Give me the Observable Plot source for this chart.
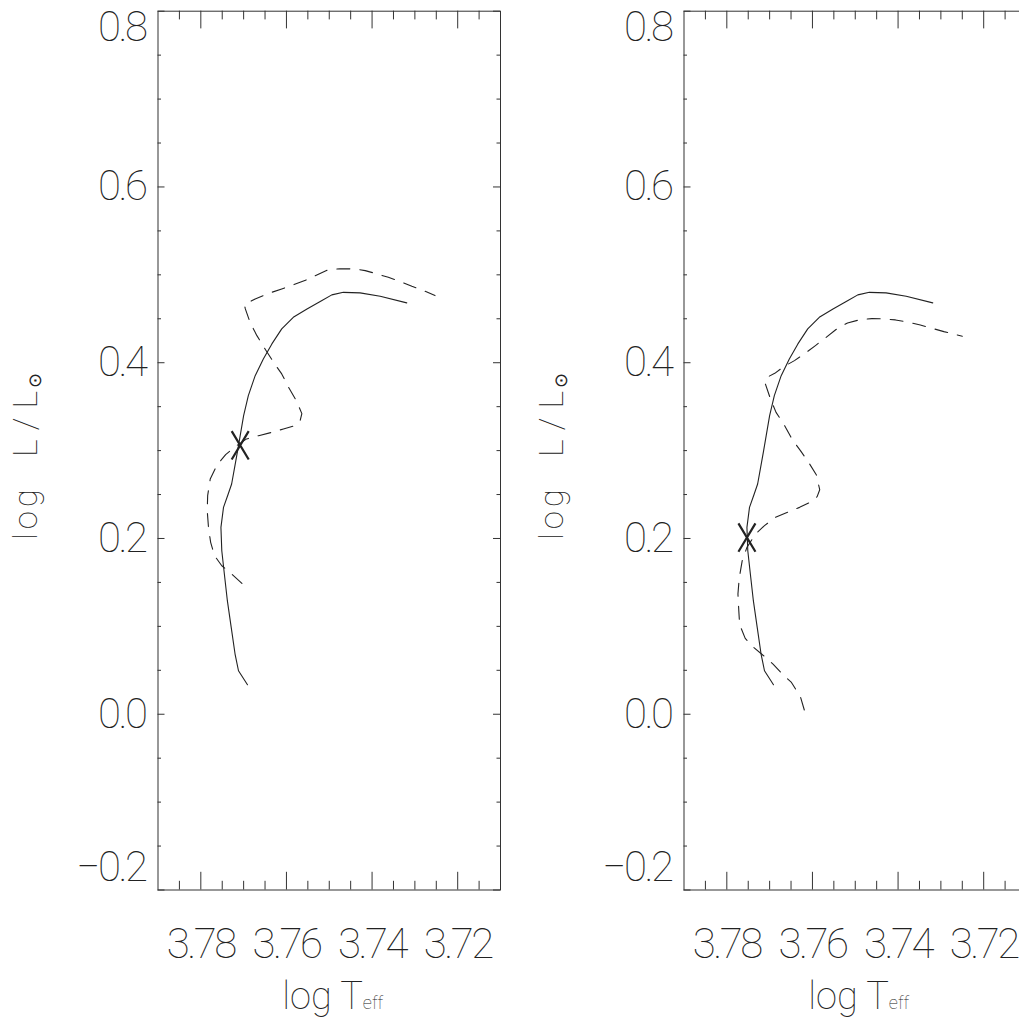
<!DOCTYPE html>
<html><head><meta charset="utf-8">
<script src="https://cdn.jsdelivr.net/npm/d3@7"></script>
<script src="https://cdn.jsdelivr.net/npm/@observablehq/plot@0.6"></script>
<style>
html,body{margin:0;padding:0;background:#fff;overflow:hidden}
#wrap{position:relative;width:1019px;height:1028px;overflow:hidden}
.panel{position:absolute;top:0}
</style>
</head><body><div id="wrap"></div>
<script>
// ---- data ----
const xMajorTicks = [3.78, 3.76, 3.74, 3.72];
const xMinorTicks = [3.785, 3.775, 3.77, 3.765, 3.755, 3.75, 3.745, 3.735, 3.73, 3.725, 3.715];
const yMajorTicks = [-0.2, 0.0, 0.2, 0.4, 0.6, 0.8];
const yMinorTicks = [-0.15, -0.1, -0.05, 0.05, 0.1, 0.15, 0.25, 0.3, 0.35, 0.45, 0.5, 0.55, 0.65, 0.7, 0.75];

// solid track (same in both panels)
const solidLogT = [3.7691, 3.7712, 3.7720, 3.7729, 3.7738, 3.7745, 3.7751, 3.7753, 3.7747, 3.7736, 3.7728, 3.7721, 3.7714, 3.7708, 3.7700, 3.7689, 3.7673, 3.7654, 3.7634, 3.7611, 3.7584, 3.7552, 3.7517, 3.7494, 3.7467, 3.7428, 3.7381, 3.7319];
const solidLogL = [0.0336, 0.0495, 0.0685, 0.0988, 0.1292, 0.1596, 0.1861, 0.2126, 0.2354, 0.2506, 0.2620, 0.2809, 0.2999, 0.3170, 0.3398, 0.3625, 0.3853, 0.4043, 0.4214, 0.4385, 0.4517, 0.4612, 0.4707, 0.4772, 0.4801, 0.4795, 0.4756, 0.4681];

// dashed track, left panel
const dashedLeftLogT = [3.7704, 3.7728, 3.7751, 3.7768, 3.7777, 3.7782, 3.7785, 3.7784, 3.7778, 3.7763, 3.7742, 3.7720, 3.7693, 3.7665, 3.7634, 3.7607, 3.7580, 3.7568, 3.7564, 3.7577, 3.7595, 3.7611, 3.7630, 3.7650, 3.7669, 3.7685, 3.7696, 3.7698, 3.7673, 3.7638, 3.7611, 3.7584, 3.7552, 3.7529, 3.7502, 3.7475, 3.7443, 3.7416, 3.7389, 3.7362, 3.7334, 3.7307, 3.7280, 3.7253];
const dashedLeftLogL = [0.1489, 0.1596, 0.1690, 0.1804, 0.1956, 0.2120, 0.2316, 0.2487, 0.2677, 0.2829, 0.2954, 0.3045, 0.3133, 0.3170, 0.3208, 0.3246, 0.3284, 0.3341, 0.3421, 0.3569, 0.3720, 0.3873, 0.4005, 0.4157, 0.4308, 0.4460, 0.4612, 0.4661, 0.4726, 0.4795, 0.4840, 0.4886, 0.4946, 0.4999, 0.5060, 0.5068, 0.5068, 0.5048, 0.5011, 0.4972, 0.4923, 0.4870, 0.4821, 0.4764];

// dashed track, right panel
const dashedRightLogT = [3.7619, 3.7628, 3.7649, 3.7669, 3.7692, 3.7714, 3.7739, 3.7757, 3.7770, 3.7772, 3.7774, 3.7771, 3.7764, 3.7753, 3.7733, 3.7712, 3.7687, 3.7630, 3.7601, 3.7589, 3.7583, 3.7591, 3.7609, 3.7628, 3.7648, 3.7667, 3.7685, 3.7698, 3.7710, 3.7708, 3.7688, 3.7667, 3.7642, 3.7617, 3.7593, 3.7568, 3.7543, 3.7518, 3.7488, 3.7461, 3.7434, 3.7406, 3.7375, 3.7348, 3.7321, 3.7293, 3.7250];
const dashedRightLogL = [0.0048, 0.0199, 0.0362, 0.0450, 0.0571, 0.0666, 0.0768, 0.0863, 0.1019, 0.1178, 0.1368, 0.1550, 0.1747, 0.1899, 0.2051, 0.2146, 0.2240, 0.2354, 0.2422, 0.2476, 0.2555, 0.2726, 0.2866, 0.2999, 0.3133, 0.3303, 0.3435, 0.3588, 0.3759, 0.3830, 0.3879, 0.3956, 0.4024, 0.4107, 0.4195, 0.4289, 0.4385, 0.4453, 0.4491, 0.4502, 0.4499, 0.4487, 0.4460, 0.4430, 0.4392, 0.4354, 0.4301];

// X markers
const markerLogT = [3.7708, 3.7753];
const markerLogL = [0.306, 0.201];

const xDomain = [3.79, 3.71];
const yDomain = [-0.2, 0.8];

// ---- layout ----
const PW = 526, PH = 1028;
const ML = 157.5, MR = 26, MT = 10.7, MB = 138.5;
const IW = PW - ML - MR, IH = PH - MT - MB;
const INK = "#222", AX = "#333";
const FONT = "Roboto, 'Open Sans', 'DejaVu Sans', sans-serif";

const xSymbol = {
  draw(ctx, size) {
    const h = Math.sqrt(size), w = h * 0.6;
    ctx.moveTo(-w/2, -h/2); ctx.lineTo(w/2, h/2);
    ctx.moveTo(w/2, -h/2); ctx.lineTo(-w/2, h/2);
  }
};

const fmtY = d => d.toFixed(1).replace("-", "\u2212");
const labelStyle = {textAnchor: "end", lineAnchor: "middle", fontSize: 42, fontWeight: 100, fill: INK, dx: -12.5};

function panel(dashT, dashL, idx) {
  const solid = solidLogT.map((t, i) => ({t, l: solidLogL[i]}));
  const dashed = dashT.map((t, i) => ({t, l: dashL[i]}));
  const marker = [{t: markerLogT[idx], l: markerLogL[idx]}];
  const yTop = yDomain[1], yBot = yDomain[0];
  const svg = Plot.plot({
    width: PW, height: PH,
    marginLeft: ML, marginRight: MR, marginTop: MT, marginBottom: MB,
    x: {domain: xDomain, axis: null},
    y: {domain: yDomain, axis: null},
    style: {fontFamily: FONT, background: "transparent", overflow: "visible", color: INK},
    marks: [
      // ticks (inside, all four sides)
      Plot.ruleX(xMajorTicks, {x: d => d, insetTop: IH - 17.7, stroke: AX}),
      Plot.ruleX(xMajorTicks, {x: d => d, insetBottom: IH - 17.7, stroke: AX}),
      Plot.ruleX(xMinorTicks, {x: d => d, insetTop: IH - 8.7, stroke: AX}),
      Plot.ruleX(xMinorTicks, {x: d => d, insetBottom: IH - 8.7, stroke: AX}),
      Plot.ruleY(yMajorTicks, {y: d => d, insetRight: IW - 7, stroke: AX}),
      Plot.ruleY(yMajorTicks, {y: d => d, insetLeft: IW - 7, stroke: AX}),
      Plot.ruleY(yMinorTicks, {y: d => d, insetRight: IW - 3.5, stroke: AX}),
      Plot.ruleY(yMinorTicks, {y: d => d, insetLeft: IW - 3.5, stroke: AX}),
      Plot.frame({stroke: AX, strokeWidth: 1}),
      // tick labels
      Plot.text(xMajorTicks, {x: d => d, y: yDomain[0], text: d => d.toFixed(2), dy: 67.5,
        lineAnchor: "bottom", textAnchor: "middle", fontSize: 42, fontWeight: 100, fill: INK}),
      Plot.text(yMajorTicks.filter(v => v > yBot && v < yTop), {x: xDomain[0], y: d => d, text: fmtY, ...labelStyle}),
      Plot.text(yMajorTicks.filter(v => v === yTop), {x: xDomain[0], y: d => d, text: fmtY, ...labelStyle, dy: 16}),
      Plot.text(yMajorTicks.filter(v => v === yBot), {x: xDomain[0], y: d => d, text: fmtY, ...labelStyle, dy: -22}),
      // data
      Plot.line(solid, {x: "t", y: "l", stroke: INK, strokeWidth: 1.1, curve: "linear"}),
      Plot.line(dashed, {x: "t", y: "l", stroke: INK, strokeWidth: 1.1, strokeDasharray: "13,10", curve: "linear"}),
      Plot.dot(marker, {x: "t", y: "l", symbol: xSymbol, r: 16, stroke: INK, strokeWidth: 2.2, fill: "none"})
    ]
  });
  const s = d3.select(svg);
  // tighten tick label spacing (narrow vector-font look)
  s.selectAll("g[aria-label='text'] text").style("letter-spacing", "-2.5px");
  // x-axis title
  const xt = s.append("text")
    .attr("x", ML + IW / 2 + 4).attr("y", 1009)
    .attr("text-anchor", "middle")
    .attr("fill", INK)
    .style("font-family", FONT).style("font-weight", 100).style("font-size", "38px");
  xt.append("tspan").text("log T");
  xt.append("tspan").text("eff").style("font-size", "18px");
  // y-axis title
  const yt = s.append("text")
    .attr("transform", `translate(37,${MT + IH / 2 + 90}) rotate(-90)`)
    .attr("text-anchor", "start")
    .attr("fill", INK)
    .style("font-family", FONT).style("font-weight", 100).style("font-size", "33px")
    .style("letter-spacing", "4px");
  yt.append("tspan").text("log");
  yt.append("tspan").attr("dx", 28).text("L/L").style("letter-spacing", "9px").style("font-size", "34px");
  yt.append("tspan").text("\u2299").attr("dx", -6).attr("dy", 4).style("font-size", "18px").style("letter-spacing", "0px")
    .style("font-family", "'DejaVu Sans', sans-serif");
  return svg;
}

const wrap = document.getElementById("wrap");
const p1 = panel(dashedLeftLogT, dashedLeftLogL, 0);
p1.classList.add("panel"); p1.style.left = "0px";
const p2 = panel(dashedRightLogT, dashedRightLogL, 1);
p2.classList.add("panel"); p2.style.left = "525.8px";
wrap.appendChild(p1);
wrap.appendChild(p2);
</script>
</body></html>
